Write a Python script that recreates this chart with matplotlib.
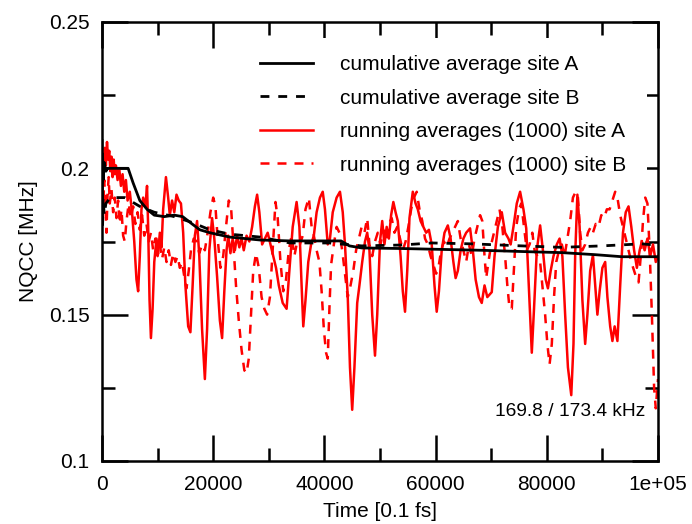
import matplotlib
matplotlib.use("Agg")
import matplotlib.pyplot as plt
from matplotlib.patches import Rectangle

plt.rcParams['font.family'] = ['Liberation Sans', 'DejaVu Sans']

# ---- data (time in 0.1 fs, NQCC in MHz) ----
t_runA = [0, 150, 300, 500, 700, 900, 1100, 1300, 1500, 1700, 1900, 2100, 2300, 2500, 2800, 3100, 3400,
          3700, 4000, 4300, 4600, 5000, 5400, 5800, 6200, 6500, 6800, 7100, 7400, 7800, 8100, 8300, 8550,
          8800, 9100, 9400, 9800, 10100, 10400, 10700, 11000, 11500, 11900, 12200, 12600, 13000, 13400,
          13800, 14200, 14600, 15000, 15500, 15900, 16300, 16700, 17100, 17500, 18000, 18500, 18900,
          19300, 19800, 20200, 20700, 21200, 21600, 22000, 22400, 22700, 23100, 23500, 23900, 24300,
          24700, 25100, 25500, 26000, 26500, 27000, 27500, 27900, 28300, 28800, 29300, 29800, 30300,
          30800, 31300, 31800, 32500, 33200, 33700, 34300, 35000, 35500, 35900, 36200, 36600, 37100,
          37600, 38100, 38600, 39200, 39700, 40100, 40600, 41000, 41500, 42200, 42800, 43300, 43700,
          44200, 44600, 45000, 45400, 45900, 46300, 46800, 47300, 47700, 48100, 48600, 49100, 49500,
          50000, 50400, 50800, 51200, 51600, 52000, 52400, 52800, 53200, 53700, 54100, 54500, 54900,
          55300, 55900, 56400, 56800, 57300, 57800, 58300, 58800, 59300, 59800, 60200, 60600, 61100,
          61600, 62200, 62700, 63200, 63600, 64000, 64500, 65000, 65500, 66200, 66700, 67200, 67800,
          68300, 68800, 69300, 70100, 70600, 71200, 71900, 72500, 73100, 73500, 74000, 74600, 75200,
          75800, 76300, 76800, 77300, 77700, 78200, 78800, 79300, 79800, 80200, 80700, 81200, 81800,
          82300, 82800, 83300, 83800, 84400, 84800, 85100, 85500, 85900, 86400, 86900, 87300, 87800,
          88300, 88700, 89100, 89500, 90000, 90500, 90900, 91400, 91800, 92200, 92700, 93200, 93700,
          94200, 94700, 95200, 95700, 96200, 96700, 97100, 97600, 98100, 98600, 99100, 99600, 100000]
runA = [0.192, 0.203, 0.199, 0.207, 0.201, 0.209, 0.203, 0.206, 0.199, 0.204, 0.197, 0.203, 0.198, 0.201,
        0.196, 0.200, 0.194, 0.198, 0.192, 0.196, 0.189, 0.192, 0.185, 0.175, 0.162, 0.158, 0.170, 0.186,
        0.190, 0.187, 0.194, 0.180, 0.155, 0.142, 0.152, 0.168, 0.176, 0.171, 0.178, 0.173, 0.186, 0.197,
        0.190, 0.184, 0.189, 0.185, 0.191, 0.189, 0.188, 0.178, 0.160, 0.146, 0.144, 0.160, 0.177, 0.182,
        0.170, 0.145, 0.128, 0.145, 0.172, 0.183, 0.176, 0.163, 0.148, 0.142, 0.158, 0.172, 0.177, 0.171,
        0.176, 0.172, 0.177, 0.173, 0.176, 0.172, 0.177, 0.175, 0.180, 0.187, 0.191, 0.185, 0.174, 0.176,
        0.178, 0.174, 0.170, 0.166, 0.160, 0.154, 0.152, 0.165, 0.180, 0.1885, 0.180, 0.160, 0.146, 0.155,
        0.168, 0.174, 0.177, 0.185, 0.190, 0.192, 0.186, 0.174, 0.176, 0.185, 0.190, 0.192, 0.185, 0.174,
        0.156, 0.132, 0.1175, 0.132, 0.154, 0.160, 0.168, 0.175, 0.178, 0.172, 0.150, 0.136, 0.150, 0.175,
        0.182, 0.174, 0.180, 0.176, 0.184, 0.1885, 0.185, 0.182, 0.170, 0.158, 0.151, 0.165, 0.183, 0.192,
        0.188, 0.186, 0.182, 0.180, 0.178, 0.179, 0.174, 0.160, 0.151, 0.158, 0.172, 0.178, 0.1805, 0.176,
        0.168, 0.1625, 0.165, 0.172, 0.176, 0.178, 0.1795, 0.172, 0.162, 0.156, 0.154, 0.160, 0.156, 0.1577,
        0.170, 0.180, 0.185, 0.178, 0.176, 0.174, 0.180, 0.188, 0.192, 0.186, 0.1795, 0.158, 0.137, 0.152,
        0.172, 0.1805, 0.172, 0.162, 0.159, 0.165, 0.170, 0.174, 0.176, 0.170, 0.150, 0.132, 0.1225, 0.140,
        0.170, 0.191, 0.180, 0.155, 0.140, 0.150, 0.165, 0.1704, 0.160, 0.150, 0.158, 0.166, 0.168, 0.156,
        0.146, 0.141, 0.146, 0.141, 0.160, 0.178, 0.185, 0.187, 0.180, 0.172, 0.166, 0.172, 0.175, 0.172,
        0.176, 0.170, 0.174, 0.168, 0.170]

t_runB = [0, 200, 400, 600, 800, 1000, 1200, 1400, 1700, 2000, 2300, 2600, 2900, 3200, 3500, 3800, 4100,
          4400, 4800, 5200, 5600, 6000, 6400, 6800, 7200, 7600, 8000, 8400, 8800, 9200, 9600, 10000,
          10400, 10800, 11200, 11600, 12000, 12400, 12800, 13200, 13600, 14000, 14400, 14800, 15200,
          15600, 16000, 16500, 17000, 17500, 18000, 18500, 19000, 19500, 20000, 20400, 20800, 21300,
          21800, 22300, 22800, 23200, 23600, 24100, 24600, 25100, 25600, 26000, 26400, 26800, 27200,
          27700, 28200, 28700, 29200, 29700, 30200, 30700, 31200, 31600, 32100, 32600, 33100, 33600,
          34100, 34600, 35100, 35600, 36100, 36600, 37200, 37700, 38100, 38600, 39100, 39500, 39900,
          40300, 40600, 40900, 41200, 41700, 42200, 42700, 43200, 43700, 44200, 44700, 45200, 45700,
          46200, 46700, 47200, 47700, 48100, 48600, 49100, 49600, 50100, 50600, 51100, 51600, 52100,
          52600, 53100, 53600, 54100, 54600, 55100, 55600, 56100, 56600, 57100, 57600, 58100, 58600,
          59100, 59600, 60100, 60500, 61000, 61500, 62000, 62500, 63000, 63500, 64000, 64500, 65000,
          65500, 66000, 66500, 67000, 67500, 68000, 68400, 68800, 69100, 69500, 70000, 70500, 71000,
          71500, 72000, 72500, 72900, 73300, 73700, 74100, 74500, 75000, 75400, 75900, 76400, 76900,
          77400, 77800, 78300, 78800, 79200, 79700, 80100, 80500, 80900, 81300, 81700, 82200, 82700,
          83200, 83700, 84200, 84700, 85200, 85600, 86000, 86400, 86900, 87400, 87900, 88300, 88800,
          89300, 89800, 90300, 90800, 91300, 91800, 92300, 92700, 93200, 93700, 94200, 94700, 95200,
          95700, 96200, 96500, 96900, 97300, 97700, 98100, 98500, 98900, 99300, 99600, 100000]
runB = [0.200, 0.186, 0.196, 0.189, 0.178, 0.191, 0.197, 0.188, 0.193, 0.185, 0.190, 0.183, 0.189, 0.181,
        0.186, 0.177, 0.175, 0.182, 0.188, 0.183, 0.187, 0.181, 0.185, 0.179, 0.184, 0.177, 0.181, 0.175,
        0.178, 0.172, 0.176, 0.170, 0.174, 0.169, 0.173, 0.168, 0.172, 0.167, 0.171, 0.168, 0.170, 0.166,
        0.168, 0.163, 0.159, 0.165, 0.172, 0.176, 0.175, 0.171, 0.174, 0.172, 0.178, 0.185, 0.190, 0.187,
        0.176, 0.166, 0.170, 0.180, 0.189, 0.187, 0.175, 0.160, 0.148, 0.138, 0.131, 0.130, 0.135, 0.150,
        0.165, 0.171, 0.166, 0.156, 0.152, 0.150, 0.156, 0.172, 0.1885, 0.183, 0.168, 0.158, 0.162, 0.172,
        0.177, 0.170, 0.175, 0.174, 0.177, 0.186, 0.190, 0.180, 0.177, 0.172, 0.168, 0.158, 0.145, 0.137,
        0.135, 0.152, 0.167, 0.174, 0.180, 0.178, 0.172, 0.164, 0.156, 0.160, 0.165, 0.172, 0.176, 0.180,
        0.178, 0.183, 0.174, 0.170, 0.175, 0.178, 0.174, 0.179, 0.175, 0.181, 0.183, 0.178, 0.180, 0.176,
        0.172, 0.175, 0.180, 0.186, 0.190, 0.192, 0.186, 0.182, 0.176, 0.174, 0.170, 0.167, 0.164, 0.166,
        0.172, 0.175, 0.173, 0.176, 0.178, 0.180, 0.182, 0.176, 0.172, 0.168, 0.174, 0.170, 0.176, 0.180,
        0.184, 0.182, 0.170, 0.1625, 0.168, 0.174, 0.178, 0.182, 0.186, 0.180, 0.170, 0.160, 0.152, 0.152,
        0.166, 0.180, 0.186, 0.188, 0.180, 0.172, 0.174, 0.178, 0.172, 0.170, 0.168, 0.160, 0.150, 0.140,
        0.133, 0.140, 0.156, 0.168, 0.172, 0.174, 0.170, 0.176, 0.182, 0.190, 0.192, 0.190, 0.178, 0.172,
        0.174, 0.178, 0.180, 0.178, 0.181, 0.180, 0.184, 0.183, 0.186, 0.186, 0.189, 0.192, 0.190, 0.184,
        0.180, 0.176, 0.172, 0.168, 0.165, 0.162, 0.161, 0.170, 0.182, 0.190, 0.188, 0.172, 0.150, 0.125,
        0.118, 0.128]

t_cumA = [0, 100, 200, 400, 700, 1000, 4700, 5600, 6800, 8100, 9400, 11200, 13000, 14500, 16200, 17600,
          19400, 23000, 28500, 33800, 43000, 44500, 46700, 53900, 68300, 76800, 82700, 88700, 93500, 100000]
cumA = [0.186, 0.205, 0.196, 0.202, 0.199, 0.200, 0.200, 0.195, 0.189, 0.186, 0.184, 0.1835, 0.184,
        0.1835, 0.181, 0.179, 0.178, 0.1765, 0.1755, 0.1752, 0.1752, 0.1735, 0.1728, 0.1726, 0.172, 0.1715,
        0.1712, 0.1705, 0.1698, 0.1698]

t_cumB = [0, 100, 200, 400, 700, 1500, 4100, 6800, 9400, 13000, 16200, 19400, 23000, 28500, 33800, 40900,
          46700, 53900, 59300, 66500, 75500, 82700, 89900, 97100, 100000]
cumB = [0.210, 0.180, 0.190, 0.184, 0.188, 0.190, 0.190, 0.187, 0.185, 0.1835, 0.1815, 0.179, 0.1775,
        0.1765, 0.1745, 0.1745, 0.1735, 0.1738, 0.1745, 0.1742, 0.1735, 0.173, 0.1735, 0.1742, 0.1737]

labels = ["cumulative average site A", "cumulative average site B",
          "running averages (1000) site A", "running averages (1000) site B"]
annotation = "169.8 / 173.4 kHz"

# ---- figure ----
fig = plt.figure(figsize=(6.92, 5.24), dpi=100)
ax = fig.add_axes([102/692, 63/524, 556/692, 439/524])

dash_k = (0, (3.2, 3.2))
dash_r = (0, (3.6, 3.2))
lA, = ax.plot(t_cumA, cumA, color='black', lw=2.0, label=labels[0], zorder=3)
lB, = ax.plot(t_cumB, cumB, color='black', lw=2.0, ls=dash_k, label=labels[1], zorder=3)
rA, = ax.plot(t_runA, runA, color='#ff0000', lw=1.8, label=labels[2], zorder=2.2)
rB, = ax.plot(t_runB, runB, color='#ff0000', lw=1.8, ls=dash_r, label=labels[3], zorder=2.1)

ax.set_xlim(0, 100000)
ax.set_ylim(0.1, 0.25)
ax.set_xticks([0, 20000, 40000, 60000, 80000, 100000])
ax.set_xticklabels(['0', '20000', '40000', '60000', '80000', '1e+05'])
ax.set_xticks([10000, 30000, 50000, 70000, 90000], minor=True)
ax.set_yticks([0.1, 0.15, 0.2, 0.25])
ax.set_yticklabels(['0.1', '0.15', '0.2', '0.25'])
ax.set_yticks([0.125, 0.175, 0.225], minor=True)

ax.tick_params(which='both', direction='in', top=True, right=True, width=1.8, color='black')
ax.tick_params(which='major', length=18.5, labelsize=15)
ax.tick_params(which='minor', length=9.2)
ax.tick_params(axis='x', which='major', pad=10)
ax.tick_params(axis='y', which='major', pad=9)
for s in ax.spines.values():
    s.set_linewidth(1.8)

ax.set_xlabel("Time [0.1 fs]", fontsize=15, labelpad=6)
ax.set_ylabel("NQCC [MHz]", fontsize=15, labelpad=8)

# opaque key area (covers ticks under the legend, like the original)
ax.add_patch(Rectangle((0.266, 0.651), 0.714, 0.3126, transform=ax.transAxes,
                       facecolor='white', edgecolor='none', zorder=1.7))

leg = ax.legend(handles=[lA, lB, rA, rB], loc='upper left', bbox_to_anchor=(0.284, 0.925),
                frameon=False, fontsize=15, handlelength=2.55, handletextpad=1.3,
                borderpad=0, borderaxespad=0, labelspacing=0.7)

ax.text(0.977, 0.112, annotation, transform=ax.transAxes, ha='right', va='center', fontsize=13.8)

fig.savefig("out.png", dpi=100)
